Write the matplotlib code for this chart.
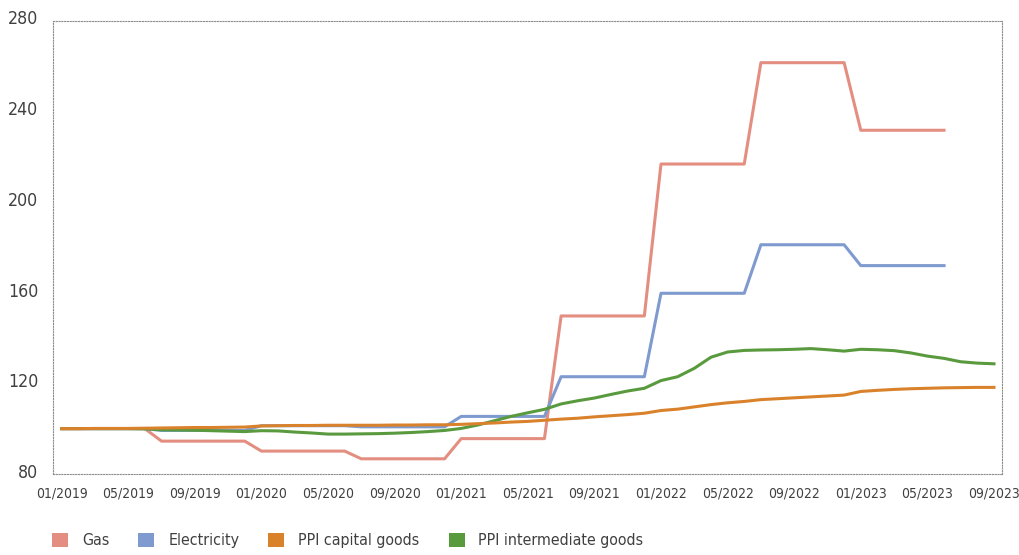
import matplotlib
matplotlib.use("Agg")
import matplotlib.pyplot as plt
import matplotlib.transforms as mtransforms
from matplotlib.patches import Patch
from matplotlib import font_manager as fm
from matplotlib.font_manager import FontProperties
from matplotlib.textpath import TextPath
import numpy as np

months = [f"{m:02d}/{y}" for y in range(2019, 2024) for m in range(1, 13)][:57]
tick_labels = ["01/2019", "05/2019", "09/2019", "01/2020", "05/2020", "09/2020",
               "01/2021", "05/2021", "09/2021", "01/2022", "05/2022", "09/2022",
               "01/2023", "05/2023", "09/2023"]
y_ticks = [80, 120, 160, 200, 240, 280]

gas = [100, 100, 100, 100, 100, 100,
       94.5, 94.5, 94.5, 94.5, 94.5, 94.5,
       90.1, 90.1, 90.1, 90.1, 90.1, 90.1,
       86.7, 86.7, 86.7, 86.7, 86.7, 86.7,
       95.6, 95.6, 95.6, 95.6, 95.6, 95.6,
       149.7, 149.7, 149.7, 149.7, 149.7, 149.7,
       216.7, 216.7, 216.7, 216.7, 216.7, 216.7,
       261.4, 261.4, 261.4, 261.4, 261.4, 261.4,
       231.6, 231.6, 231.6, 231.6, 231.6, 231.6,
       None, None, None]

electricity = [100, 100, 100, 100, 100, 100,
               99.2, 99.2, 99.2, 99.2, 99.2, 99.2,
               101.3, 101.3, 101.3, 101.3, 101.3, 101.3,
               100.8, 100.8, 100.8, 100.8, 100.8, 100.8,
               105.4, 105.4, 105.4, 105.4, 105.4, 105.4,
               122.9, 122.9, 122.9, 122.9, 122.9, 122.9,
               159.7, 159.7, 159.7, 159.7, 159.7, 159.7,
               181.1, 181.1, 181.1, 181.1, 181.1, 181.1,
               171.9, 171.9, 171.9, 171.9, 171.9, 171.9,
               None, None, None]

ppi_capital = [100, 100, 100.1, 100.1, 100.1, 100.2, 100.3, 100.4, 100.5, 100.5,
               100.6, 100.7, 101.2, 101.3, 101.4, 101.4, 101.5, 101.5, 101.5, 101.5,
               101.6, 101.6, 101.7, 101.7, 101.9, 102.2, 102.5, 102.9, 103.2, 103.7,
               104.2, 104.6, 105.2, 105.7, 106.2, 106.8, 108.0, 108.6, 109.6, 110.6,
               111.4, 112.0, 112.8, 113.2, 113.6, 114.0, 114.4, 114.8, 116.4, 116.9,
               117.3, 117.6, 117.8, 118.0, 118.1, 118.2, 118.2]

ppi_intermediate = [100, 100, 100, 100, 100, 99.9, 99.5, 99.4, 99.3, 99.1,
                    98.9, 98.7, 99.1, 99.0, 98.5, 98.1, 97.6, 97.6, 97.7, 97.8,
                    98.0, 98.3, 98.7, 99.2, 100.1, 101.6, 103.5, 105.4, 107.0, 108.5,
                    110.9, 112.3, 113.5, 115.1, 116.6, 117.8, 121.2, 122.9, 126.6, 131.5,
                    133.8, 134.5, 134.7, 134.8, 135.0, 135.3, 134.8, 134.2, 135.0, 134.8,
                    134.4, 133.4, 132.0, 131.0, 129.5, 128.9, 128.6]

series_names = ["Gas", "Electricity", "PPI capital goods", "PPI intermediate goods"]
colors = ["#E38E80", "#7F9ACF", "#D9822B", "#5A9A3E"]

# ---- pick a narrow font if one exists ----
font_family = None
font_stretch = "normal"
for f in fm.fontManager.ttflist:
    fn = f.fname.lower()
    if ("narrow" in fn or "condensed" in fn) and "bold" not in fn and "italic" not in fn \
            and "oblique" not in fn and "light" not in fn:
        font_family = f.name
        font_stretch = f.stretch
        break
if font_family is None:
    avail = {f.name for f in fm.fontManager.ttflist}
    for cand in ["Roboto", "Lato", "Open Sans", "Noto Sans", "DejaVu Sans"]:
        if cand in avail:
            font_family = cand
            break
plt.rcParams['font.family'] = [font_family, 'DejaVu Sans']
plt.rcParams['font.stretch'] = font_stretch


def size_for(text, target_px, max_pt):
    prop = FontProperties(family=font_family, stretch=font_stretch)
    w = TextPath((0, 0), text, size=10, prop=prop).get_extents().width
    w_px = w * 100 / 72
    return min(max_pt, 10 * target_px / w_px)


x_size = size_for("01/2019", 50, 15)
y_size = size_for("280", 28, 19)
leg_size = size_for("Electricity", 69, 15)


def arr(v):
    return np.array([np.nan if x is None else x for x in v], dtype=float)


fig = plt.figure(figsize=(10.2, 5.55), dpi=100)
ax = fig.add_axes([53.3/1020, 81/555, (1002.3-53.3)/1020, (474-20.5)/555])

x = np.arange(len(months))
lw = 2.2
ax.plot(x, arr(gas), color=colors[0], lw=lw, zorder=2)
ax.plot(x, arr(electricity), color=colors[1], lw=lw, zorder=3)
ax.plot(x, arr(ppi_intermediate), color=colors[3], lw=lw, zorder=4)
ax.plot(x, arr(ppi_capital), color=colors[2], lw=lw, zorder=5)

ax.set_xlim(-0.5, len(months) - 0.5)
ax.set_ylim(80, 280)
ax.set_yticks(y_ticks)
ax.set_xticks(np.arange(0, len(months), 4))
ax.set_xticklabels(tick_labels)

for s in ax.spines.values():
    s.set_linestyle((0, (1, 1.5)))
    s.set_color("#8c8c8c")
    s.set_linewidth(0.8)

ax.tick_params(axis='both', length=0, colors="#404040")
ax.tick_params(axis='y', labelsize=y_size, pad=11)
ax.tick_params(axis='x', labelsize=x_size, pad=9)

off = mtransforms.ScaledTranslation(0, 3/100, fig.dpi_scale_trans)
for lab in ax.get_yticklabels():
    lab.set_transform(lab.get_transform() + off)

em = leg_size * 100 / 72
handles = [Patch(facecolor=c, edgecolor='none') for c in colors]
leg = fig.legend(handles, series_names, loc='center left',
                 bbox_to_anchor=(52/1020, 14.5/555), ncol=4, frameon=False,
                 fontsize=leg_size, handlelength=16/em,
                 handleheight=15/em,
                 handletextpad=14/em,
                 columnspacing=29/em, borderpad=0,
                 borderaxespad=0)
for t in leg.get_texts():
    t.set_color("#404040")

fig.savefig("out.png", dpi=100)
